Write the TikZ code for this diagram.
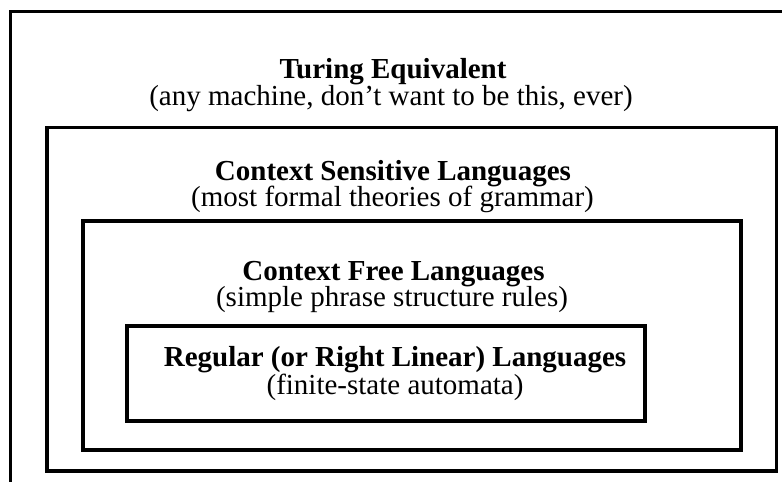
\documentclass[tikz,border=0pt]{standalone}
\usepackage{fontspec}
\setmainfont{Liberation Serif}
\usepackage{tikz}
\usetikzlibrary{positioning}

\begin{document}
\begin{tikzpicture}[
  frame/.style={draw, line width=2pt},
  level/.style={anchor=base, inner sep=0pt, text depth=0.08cm, font=\fontsize{16.5}{19}\selectfont\bfseries},
  note/.style={anchor=base, inner sep=0pt, text height=0.34cm, font=\fontsize{16.5}{19}\selectfont}
]
\clip (0,0) rectangle (15.64,-9.64);

% --- Nested classes ---
\draw[frame] (0.21,-0.23) rectangle (16.5,-10.5);
\draw[frame] (0.94,-2.55) rectangle (15.53,-9.42);
\draw[frame] (1.66,-4.42) rectangle (14.82,-9.00);
\draw[frame] (2.54,-6.52) rectangle (12.90,-8.42);

% --- Labels ---
\node[level] (turing) at (7.86,-1.56) {Turing Equivalent};
\node[note] (turingnote) at (7.82,-2.10) {(any machine, don’t want to be this, ever)};

\node[level] (cs) at (7.86,-3.60) {Context Sensitive Languages};
\node[note] (csnote) at (7.85,-4.13) {(most formal theories of grammar)};

\node[level] (cf) at (7.87,-5.60) {Context Free Languages};
\node[note] (cfnote) at (7.84,-6.13) {(simple phrase structure rules)};

\node[level] (reg) at (7.90,-7.33) {Regular (or Right Linear) Languages};
\node[note] (regnote) at (7.90,-7.88) {(finite-state automata)};

\end{tikzpicture}
\end{document}
